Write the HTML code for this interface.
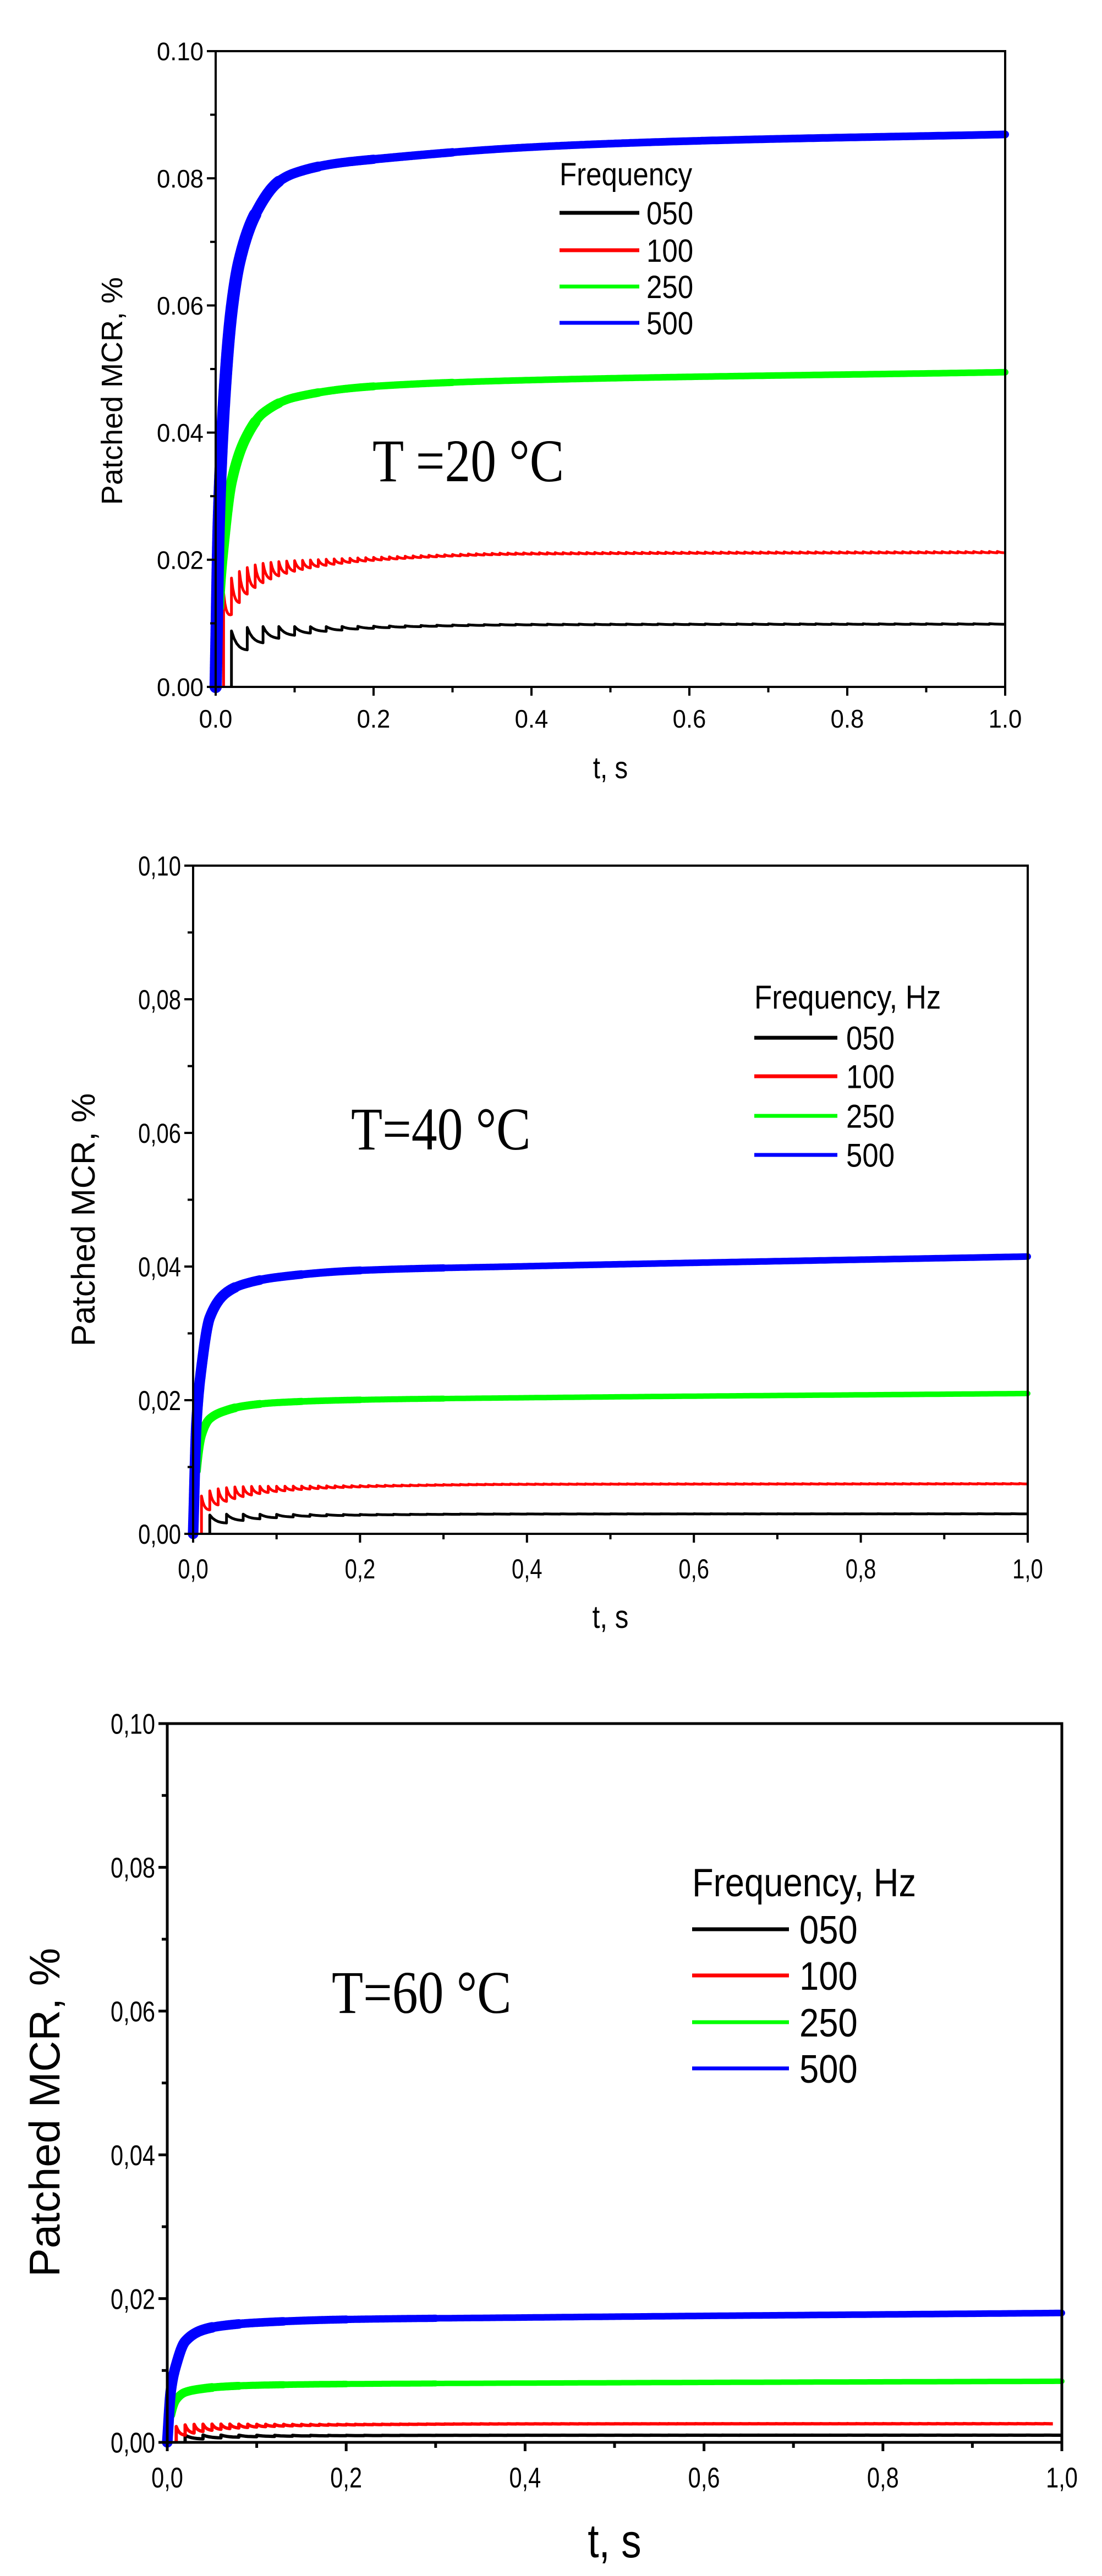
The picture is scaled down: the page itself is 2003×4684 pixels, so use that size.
<!DOCTYPE html>
<html><head><meta charset="utf-8"><style>
html,body{margin:0;padding:0;background:#fff;}
svg{display:block;}
</style></head><body>
<svg id="s" width="2003" height="4684" xmlns="http://www.w3.org/2000/svg" font-family="Liberation Sans, Arial, sans-serif"></svg>
<script>
const S=document.getElementById('s');
let out='';
function pchip(pts){
  const n=pts.length,x=pts.map(p=>p[0]),y=pts.map(p=>p[1]);
  const h=[],d=[];for(let i=0;i<n-1;i++){h[i]=x[i+1]-x[i];d[i]=(y[i+1]-y[i])/h[i];}
  const m=new Array(n);m[0]=d[0];m[n-1]=d[n-2];
  for(let i=1;i<n-1;i++){if(d[i-1]*d[i]<=0)m[i]=0;else{const w1=2*h[i]+h[i-1],w2=h[i]+2*h[i-1];m[i]=(w1+w2)/(w1/d[i-1]+w2/d[i]);}}
  return t=>{
    if(t<=x[0])return y[0];if(t>=x[n-1])return y[n-1];
    let i=0;while(t>x[i+1])i++;
    const s=(t-x[i])/h[i],s2=s*s,s3=s2*s;
    return (2*s3-3*s2+1)*y[i]+(s3-2*s2+s)*h[i]*m[i]+(-2*s3+3*s2)*y[i+1]+(s3-s2)*h[i]*m[i+1];
  };
}
function panel(p){
  const {L,R,T,B,dec,tickFont,xlabY,tFont,tY,yFont,yX,yY}=p;
  const X=t=>L+(R-L)*t, Y=v=>B-(B-T)*v/0.1;
  const bf=pchip(p.blueShape), gf=pchip(p.greenShape), sf=pchip(p.sawShape);
  function smooth(final,f,w,col,t0){
    const seg=(t1,wid)=>{
      let d='';const N=600;
      for(let i=0;i<=N;i++){const t=t0+(t1-t0)*Math.pow(i/N,2);d+=(i?'L':'M')+X(t).toFixed(1)+' '+Y(final*f(t)).toFixed(1);}
      out+=`<path d="${d}" fill="none" stroke="${col}" stroke-width="${wid}" stroke-linejoin="round" stroke-linecap="round"/>`;
    };
    seg(1,w);
    [[0.3,1.1],[0.2,1.2],[0.13,1.3],[0.08,1.45],[0.05,1.6]].forEach(a=>seg(a[0],w*a[1]));
  }
  function saw(final,period,start,col,w,amp,tend){
    let d='M'+X(start).toFixed(1)+' '+Y(0).toFixed(1);
    for(let t=start;t<tend-1e-9;t+=period){
      const a=amp*Math.exp(-(t-start)/0.06)+final*0.01;
      const base=final*sf(t);
      d+='L'+X(t).toFixed(1)+' '+Y(base+a*0.5).toFixed(1);
      const te=Math.min(t+period,tend);
      for(let k=1;k<=6;k++){const tt=t+(te-t)*k/6;const b2=final*sf(tt);d+='L'+X(tt).toFixed(1)+' '+Y(b2+a*0.5-a*(1-Math.exp(-k/2.5))/(1-Math.exp(-6/2.5))).toFixed(1);}
    }
    out+=`<path d="${d}" fill="none" stroke="${col}" stroke-width="${w}" stroke-linejoin="round"/>`;
  }
  const s=p.series;
  saw(s.k,0.02,0.02,'#000',p.sw,s.ka,1);
  saw(s.r,0.01,0.01,'#f00',p.sw,s.ra,s.rEnd||1);
  smooth(s.g,gf,p.gw,'#0f0',0.004);
  smooth(s.b,bf,p.bw,'#00f',0.0);
  const aw=p.aw;
  out+=`<rect x="${L}" y="${T}" width="${R-L}" height="${B-T}" fill="none" stroke="#000" stroke-width="${aw}"/>`;
  for(let i=0;i<=10;i++){
    const x=X(i/10),len=i%2?10:16;
    out+=`<line x1="${x}" y1="${B}" x2="${x}" y2="${B+len}" stroke="#000" stroke-width="${aw}"/>`;
    const y=Y(i/100);
    out+=`<line x1="${L}" y1="${y}" x2="${L-len}" y2="${y}" stroke="#000" stroke-width="${aw}"/>`;
    if(i%2==0){
      let xl=(i/10).toFixed(1);if(dec)xl=xl.replace('.',',');
      out+=`<text x="${x}" y="${xlabY}" font-size="${tickFont}" text-anchor="middle" transform="translate(${x} ${xlabY}) scale(${p.sx} 1) translate(${-x} ${-xlabY})">${xl}</text>`;
      let yl=(i/100).toFixed(2);if(dec)yl=yl.replace('.',',');
      const yx=L-22;
      out+=`<text x="${yx}" y="${y+tickFont*0.36}" font-size="${tickFont}" text-anchor="end" transform="translate(${yx} 0) scale(${p.sx} 1) translate(${-yx} 0)">${yl}</text>`;
    }
  }
  const cx=(L+R)/2;
  out+=`<text x="${cx}" y="${tY}" font-size="${tFont}" text-anchor="middle" transform="translate(${cx} 0) scale(0.85 1) translate(${-cx} 0)">t, s</text>`;
  out+=`<text x="0" y="0" font-size="${yFont}" text-anchor="middle" transform="translate(${yX} ${yY}) rotate(-90)">Patched MCR, %</text>`;
  const lg=p.leg;
  out+=`<text x="${lg.x}" y="${lg.ty}" font-size="${lg.fs}" transform="translate(${lg.x} 0) scale(0.88 1) translate(${-lg.x} 0)">${lg.title}</text>`;
  const cols=['#000','#f00','#0f0','#00f'],labs=['050','100','250','500'];
  for(let i=0;i<4;i++){
    const y=lg.ys[i];
    out+=`<line x1="${lg.x}" y1="${y}" x2="${lg.x2}" y2="${y}" stroke="${cols[i]}" stroke-width="${lg.lw}"/>`;
    out+=`<text x="${lg.lx}" y="${y+lg.fs*0.36}" font-size="${lg.fs}" transform="translate(${lg.lx} 0) scale(0.88 1) translate(${-lg.lx} 0)">${labs[i]}</text>`;
  }
  const tt=p.temp;
  out+=`<text x="${tt.x}" y="${tt.y}" font-size="${tt.fs}" font-family="Liberation Serif, serif" transform="translate(${tt.x} 0) scale(0.85 1) translate(${-tt.x} 0)">${tt.s}</text>`;
}
const b1=[[0,0],[0.004,0.3],[0.01,0.5],[0.02,0.68],[0.03,0.77],[0.05,0.855],[0.08,0.915],[0.1,0.93],[0.15,0.947],[0.2,0.955],[0.4,0.977],[0.6,0.988],[1,1]];
const g1=[[0,0],[0.005,0.3],[0.01,0.45],[0.02,0.65],[0.04,0.8],[0.06,0.87],[0.1,0.92],[0.2,0.955],[0.4,0.975],[1,1]];
const s1=[[0,0],[0.01,0.55],[0.03,0.75],[0.06,0.85],[0.1,0.9],[0.2,0.95],[0.4,0.99],[1,1]];
const b2=[[0,0],[0.004,0.4],[0.01,0.6],[0.02,0.78],[0.04,0.87],[0.06,0.9],[0.1,0.925],[0.2,0.95],[0.4,0.965],[1,1]];
const g2=[[0,0],[0.004,0.45],[0.01,0.7],[0.02,0.82],[0.04,0.88],[0.06,0.91],[0.1,0.935],[0.2,0.955],[0.4,0.97],[1,1]];
panel({L:392,R:1827,T:93,B:1249,dec:false,tickFont:46,sx:0.95,xlabY:1323,tFont:56,tY:1415,yFont:54,yX:222,yY:711,
 series:{b:0.0869,g:0.0495,r:0.0212,k:0.0099,ra:0.006,ka:0.004},blueShape:b1,greenShape:g1,sawShape:s1,sw:5,gw:12,bw:14,aw:4,
 leg:{x:1017,x2:1162,lx:1175,ty:337,fs:58,title:'Frequency',ys:[387,455,521,587],lw:7},
 temp:{x:677,y:875,fs:110,s:'T =20 °C'}});
panel({L:351,R:1868,T:1574,B:2789,dec:true,tickFont:50,sx:0.8,xlabY:2870,tFont:58,tY:2960,yFont:60,yX:172,yY:2218,
 series:{b:0.0415,g:0.021,r:0.0075,k:0.003,ra:0.003,ka:0.0015},blueShape:b2,greenShape:g2,sawShape:s1,sw:5,gw:10,bw:12,aw:4,
 leg:{x:1371,x2:1522,lx:1538,ty:1834,fs:60,title:'Frequency, Hz',ys:[1887,1957,2029,2100],lw:7},
 temp:{x:638,y:2090,fs:110,s:'T=40 °C'}});
panel({L:304,R:1930,T:3134,B:4441,dec:true,tickFont:52,sx:0.8,xlabY:4523,tFont:86,tY:4650,yFont:78,yX:108,yY:3841,
 series:{b:0.018,g:0.0085,r:0.0026,k:0.001,ra:0.0015,ka:0.0006,rEnd:0.99},blueShape:b2,greenShape:g2,sawShape:s1,sw:6,gw:10,bw:12,aw:5,
 leg:{x:1258,x2:1434,lx:1453,ty:3448,fs:72,title:'Frequency, Hz',ys:[3508,3592,3677,3761],lw:7},
 temp:{x:603,y:3660,fs:110,s:'T=60 °C'}});
S.innerHTML=out;
</script>
</body></html>
